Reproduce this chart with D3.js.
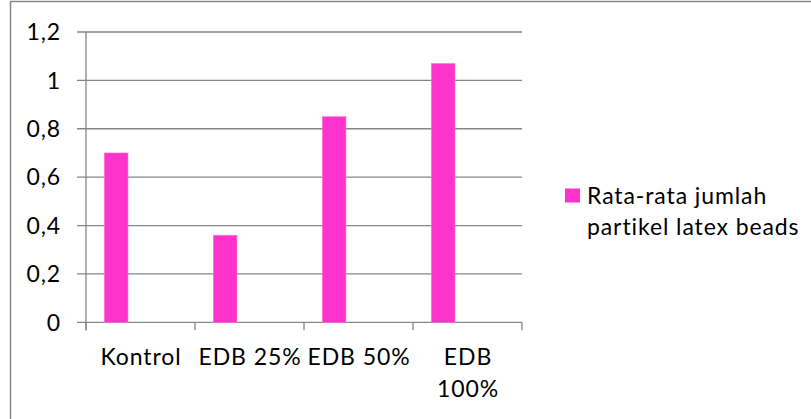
<!DOCTYPE html>
<html><head><meta charset="utf-8">
<script src="https://cdn.jsdelivr.net/npm/d3@7"></script>
<style>body{margin:0;background:#fff}svg{display:block}text{font-family:Lato,"Open Sans",sans-serif;fill:#000;letter-spacing:0.9px}</style>
</head><body>
<script>
const categories = ["Kontrol", "EDB 25%", "EDB 50%", "EDB 100%"];
const labelLines = [["Kontrol"], ["EDB 25%"], ["EDB 50%"], ["EDB", "100%"]];
const values = [0.70, 0.36, 0.85, 1.07];
const yTicks = [0, 0.2, 0.4, 0.6, 0.8, 1.0, 1.2];
const tickLabels = ["0", "0,2", "0,4", "0,6", "0,8", "1", "1,2"];
const seriesName = ["Rata-rata jumlah", "partikel latex beads"];

const W = 811, H = 419;
const svg = d3.select("body").append("svg").attr("width", W).attr("height", H);
const fs = 23;
const grid = "#868686";

// outer border (cut at right/bottom)
svg.append("rect").attr("x", 10.5).attr("y", 1.5).attr("width", W + 10).attr("height", H + 10)
  .attr("fill", "none").attr("stroke", grid).attr("stroke-width", 1.5);

const x = d3.scaleBand().domain(categories).range([86, 522]).padding(0);
const y = d3.scaleLinear().domain([0, 1.2]).range([322.3, 32]);

// gridlines
svg.append("g").selectAll("line").data(yTicks).join("line")
  .attr("x1", 77).attr("x2", 522).attr("y1", d => y(d)).attr("y2", d => y(d))
  .attr("stroke", grid).attr("stroke-width", 1.3);

// y axis line
svg.append("line").attr("x1", 86).attr("x2", 86).attr("y1", y(1.2)).attr("y2", y(0) + 8)
  .attr("stroke", grid).attr("stroke-width", 1.3);

// x ticks
const xt = categories.map(c => x(c)).concat([x.range()[1]]);
svg.append("g").selectAll("line").data(xt).join("line")
  .attr("x1", d => d).attr("x2", d => d).attr("y1", y(0)).attr("y2", y(0) + 8)
  .attr("stroke", grid).attr("stroke-width", 1.3);

// y tick labels
svg.append("g").selectAll("text").data(yTicks).join("text")
  .attr("x", 61).attr("y", d => y(d)).attr("dy", "0.36em")
  .attr("text-anchor", "end").attr("font-size", fs)
  .text((d, i) => tickLabels[i]);

// bars
const bw = x.bandwidth();
svg.append("g").selectAll("rect").data(values).join("rect")
  .attr("x", (d, i) => x(categories[i]) + bw * 0.168)
  .attr("width", bw * 0.217)
  .attr("y", d => y(d)).attr("height", d => y(0) - y(d))
  .attr("fill", "#FF33CC").attr("stroke", "#FF77DD").attr("stroke-width", 0.6);

// x labels
const xl = svg.append("g");
categories.forEach((c, i) => {
  labelLines[i].forEach((ln, j) => {
    xl.append("text").attr("x", x(c) + bw / 2 + 0.5).attr("y", 364.5 + j * 32.5)
      .attr("text-anchor", "middle").attr("font-size", fs).text(ln);
  });
});

// legend
svg.append("rect").attr("x", 565).attr("y", 188.5).attr("width", 15).attr("height", 14).attr("fill", "#FF33CC");
seriesName.forEach((ln, j) => {
  svg.append("text").attr("x", 587).attr("y", 203.5 + j * 31.5).attr("font-size", fs).text(ln);
});
</script>
</body></html>
